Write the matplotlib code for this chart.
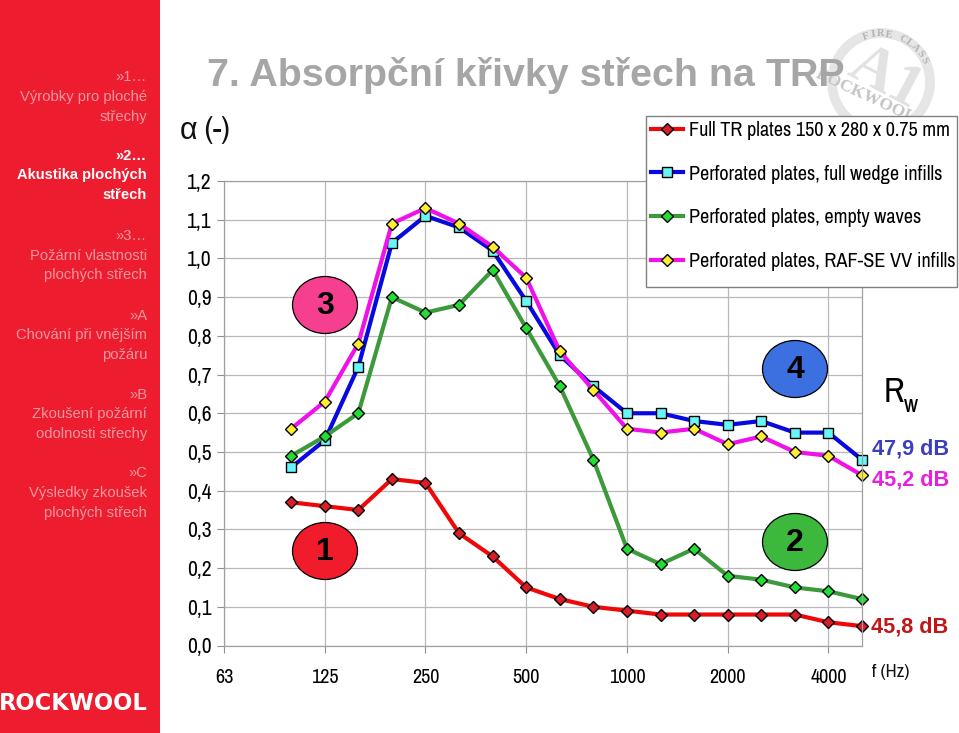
import matplotlib
matplotlib.use('Agg')
import matplotlib.pyplot as plt
from matplotlib.patches import Ellipse, Rectangle, Circle
import numpy as np

W, H = 959, 733

# third octave bands, only every third one gets a label
bands = [63, 80, 100, 125, 160, 200, 250, 315, 400, 500, 630, 800, 1000, 1250, 1600, 2000, 2500, 3150, 4000, 5000]
red = [0.37, 0.36, 0.35, 0.43, 0.42, 0.29, 0.23, 0.15, 0.12, 0.10, 0.09, 0.08, 0.08, 0.08, 0.08, 0.08, 0.06, 0.05]
blue = [0.46, 0.53, 0.72, 1.04, 1.11, 1.08, 1.02, 0.89, 0.75, 0.67, 0.60, 0.60, 0.58, 0.57, 0.58, 0.55, 0.55, 0.48]
green = [0.49, 0.54, 0.60, 0.90, 0.86, 0.88, 0.97, 0.82, 0.67, 0.48, 0.25, 0.21, 0.25, 0.18, 0.17, 0.15, 0.14, 0.12]
magenta = [0.56, 0.63, 0.78, 1.09, 1.13, 1.09, 1.03, 0.95, 0.76, 0.66, 0.56, 0.55, 0.56, 0.52, 0.54, 0.50, 0.49, 0.44]
labels = ['Full TR plates 150 x 280 x 0.75 mm', 'Perforated plates, full wedge infills',
          'Perforated plates, empty waves', 'Perforated plates, RAF-SE VV infills']
y_ticks = [0.0, 0.1, 0.2, 0.3, 0.4, 0.5, 0.6, 0.7, 0.8, 0.9, 1.0, 1.1, 1.2]
y_labels = ['0,0', '0,1', '0,2', '0,3', '0,4', '0,5', '0,6', '0,7', '0,8', '0,9', '1,0', '1,1', '1,2']
x_labels = [63, 125, 250, 500, 1000, 2000, 4000]
menu = [('»1…', 77, False), ('Výrobky pro ploché', 97, False), ('střechy', 117, False),
        ('»2…', 156, True), ('Akustika plochých', 175, True), ('střech', 195, True),
        ('»3…', 236, False), ('Požární vlastnosti', 256, False), ('plochých střech', 275, False),
        ('»A', 316, False), ('Chování při vnějším', 335, False), ('požáru', 355, False),
        ('»B', 395, False), ('Zkoušení požární', 414, False), ('odolnosti střechy', 434, False),
        ('»C', 473, False), ('Výsledky zkoušek', 493, False), ('plochých střech', 513, False)]

plt.rcParams['font.family'] = ['Liberation Sans']
narrow = ['Archivo Narrow', 'Liberation Sans']

fig = plt.figure(figsize=(W / 100, H / 100), dpi=100)


def pixel_axes(z):
    a = fig.add_axes([0, 0, 1, 1], zorder=z)
    a.set_xlim(0, W)
    a.set_ylim(H, 0)
    a.axis('off')
    return a


back = pixel_axes(0)
front = pixel_axes(2)


def arc_text(txt, cx, cy, r, start, step, size):
    # letters one by one round the stamp
    for i, ch in enumerate(txt):
        ang = np.radians(start + i * step)
        back.text(cx + r * np.cos(ang), cy - r * np.sin(ang), ch, fontsize=size, fontweight='bold',
                  family='Liberation Serif', color='#b4b4b4', rotation=np.degrees(ang) - 90,
                  ha='center', va='center', rotation_mode='anchor')


# side panel
back.add_patch(Rectangle((0, 0), 160, H, fc='#ED1C2F', ec='none'))
for txt, y, active in menu:
    back.text(147, y, txt, fontsize=10.6, ha='right', va='center',
              color='white' if active else '#F0989F', fontweight='bold' if active else 'normal')
back.text(73, 703, 'ROCKWOOL', fontsize=16.3, fontweight='bold', color='white', ha='center', va='center',
          family='DejaVu Sans')

# stamp behind the title
back.add_patch(Circle((881, 82), 49, fc='white', ec='#e6e6e6', lw=7))
back.text(885, 78, 'A1', fontsize=44, family='Liberation Serif', fontweight='bold', color='#e2e2e2',
          rotation=-28, ha='center', va='center')
arc_text('FIRE CLASS', 881, 82, 48, 108, -9, 7.5)
back.text(866, 96, 'ROCKWOOL', fontsize=12.5, family='Liberation Serif', fontweight='bold', color='#c4c4c4',
          rotation=-25, ha='center', va='center')

back.text(207, 75, '7. Absorpční křivky střech na TRP', fontsize=28.4, fontweight='bold', color='#A6A6A6',
          ha='left', va='center')

# chart itself
ax = fig.add_axes([224 / W, 1 - 645.5 / H, (862 - 224) / W, (645.5 - 181) / H], zorder=1)
ax.patch.set_alpha(0)
dx = np.arange(len(bands))[2:]
ax.plot(dx, red, color='#EE0808', lw=3, marker='D', ms=6, mfc='#D81E28', mec='black', mew=1, clip_on=False, label=labels[0])
ax.plot(dx, blue, color='#0808E0', lw=3, marker='s', ms=7, mfc='#66F6FA', mec='black', mew=1, clip_on=False, label=labels[1])
ax.plot(dx, green, color='#3C9A3C', lw=3, marker='D', ms=6, mfc='#22DD33', mec='black', mew=1, clip_on=False, label=labels[2])
ax.plot(dx, magenta, color='#F010E8', lw=3, marker='D', ms=6, mfc='#FFEE33', mec='black', mew=1, clip_on=False, label=labels[3])
ax.set_xlim(0, 19)
ax.set_ylim(0, 1.2)
ax.set_yticks(y_ticks)
ax.set_yticklabels(y_labels, fontsize=15.5, family=narrow)
ax.set_xticks([bands.index(b) for b in x_labels])
ax.set_xticklabels(x_labels, fontsize=14.5, family=narrow)
ax.tick_params(axis='both', length=5, width=0.8, color='#909090', pad=4)
ax.tick_params(axis='x', pad=11)
ax.grid(True, color='#B8B8B8', lw=0.9)
ax.set_axisbelow(True)
for s in ax.spines.values():
    s.set_color('#A0A0A0')
    s.set_linewidth(0.9)

ax.add_patch(Rectangle((646 / W, 1 - 287 / H), 311 / W, 171 / H, transform=fig.transFigure, fc='white',
                       ec='#808080', lw=1, clip_on=False, zorder=9))
leg = ax.legend(loc='upper left', bbox_to_anchor=(651 / W, 1 - 121 / H), bbox_transform=fig.transFigure,
                prop={'family': narrow, 'size': 14.6}, frameon=False, labelspacing=1.21, handlelength=1.6,
                handletextpad=0.25, borderpad=0, borderaxespad=0)
leg.set_zorder(10)

# numbered bubbles
bubbles = [('3', 325, 305, '#F6408F'), ('4', 795, 369, '#3C6FE0'), ('1', 325, 551, '#F01C2C'), ('2', 795, 542, '#3CB83C')]
for num, bx, by, col in bubbles:
    front.add_patch(Ellipse((bx, by), 65, 57, fc=col, ec='black', lw=0.9))
    front.text(bx, by + 1, num, fontsize=23, fontweight='bold', color='black', ha='center', va='center')

front.text(180, 130, 'α (-)', fontsize=22, family=narrow, ha='left', va='center', color='#111111')
front.text(884, 392, 'R', fontsize=25, fontweight='bold', family=narrow, ha='left', va='center', color='black')
front.text(904, 405, 'w', fontsize=17, fontweight='bold', family=narrow, ha='left', va='center', color='black')
front.text(872, 449, '47,9 dB', fontsize=15.6, fontweight='bold', color='#3B3FBF', ha='left', va='center')
front.text(872, 480, '45,2 dB', fontsize=15.6, fontweight='bold', color='#E81FE0', ha='left', va='center')
front.text(871, 627, '45,8 dB', fontsize=15.6, fontweight='bold', color='#C01818', ha='left', va='center')
front.text(872, 672, 'f (Hz)', fontsize=13.5, family=narrow, ha='left', va='center', color='#111111')

fig.savefig('out.png', dpi=100)
